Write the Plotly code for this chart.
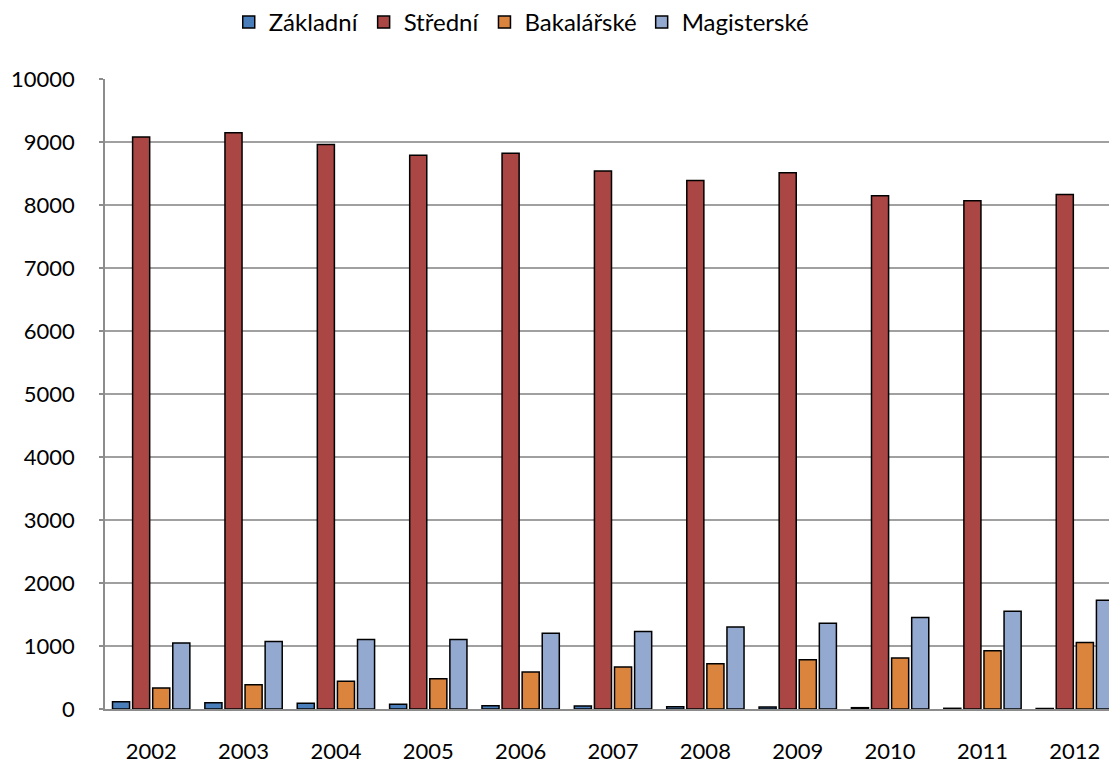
import plotly.graph_objects as go

years = ["2002", "2003", "2004", "2005", "2006", "2007", "2008", "2009", "2010", "2011", "2012"]
zakladni = [116, 100, 90, 74, 53, 48, 37, 32, 21, 11, 8]
stredni = [9080, 9145, 8960, 8790, 8822, 8540, 8390, 8510, 8146, 8067, 8167]
bakalarske = [333, 385, 439, 480, 586, 666, 718, 781, 808, 924, 1057]
magisterske = [1046, 1073, 1105, 1105, 1204, 1231, 1300, 1363, 1453, 1553, 1727]

series = [
    ("Základní", zakladni, "#4A7EBB"),
    ("Střední", stredni, "#AA4643"),
    ("Bakalářské", bakalarske, "#DB843D"),
    ("Magisterské", magisterske, "#93A9CF"),
]

FONT = "Lato, 'Open Sans', sans-serif"

fig = go.Figure()
for name, vals, col in series:
    fig.add_trace(go.Bar(
        x=years, y=vals, name=name,
        marker=dict(color=col, line=dict(color="black", width=1.5)),
    ))

fig.update_layout(
    width=1109, height=764,
    paper_bgcolor="white", plot_bgcolor="white",
    margin=dict(l=105, r=0, t=79, b=55, autoexpand=False),
    barmode="group", bargap=0.13, bargroupgap=0.15,
    font=dict(family=FONT, size=22, color="black"),
    legend=dict(
        orientation="h", xref="container", yref="container",
        x=0.47, xanchor="center", y=1.0, yanchor="top",
        font=dict(size=24), itemwidth=30, traceorder="normal",
    ),
    showlegend=True,
)
fig.update_xaxes(
    type="category", range=[-0.5, 10.37],
    showline=True, linecolor="#8C8C8C", linewidth=1.5,
    ticks="", ticklabelstandoff=22, automargin=False,
    tickfont=dict(size=22, family=FONT),
    showgrid=False,
)
fig.update_yaxes(
    range=[0, 10000], dtick=1000, tickformat="d",
    showline=True, linecolor="#8C8C8C", linewidth=1.5,
    ticks="outside", ticklen=4, tickcolor="#8C8C8C", tickwidth=1.5,
    gridcolor="#A0A0A0", gridwidth=1.5,
    ticklabelstandoff=20, automargin=False,
    tickfont=dict(size=22, family=FONT),
    zeroline=False,
)

fig.write_html(
    "out.html",
    config={"displayModeBar": False},
    post_script="document.body.style.margin='0';document.body.style.overflow='hidden';",
)
